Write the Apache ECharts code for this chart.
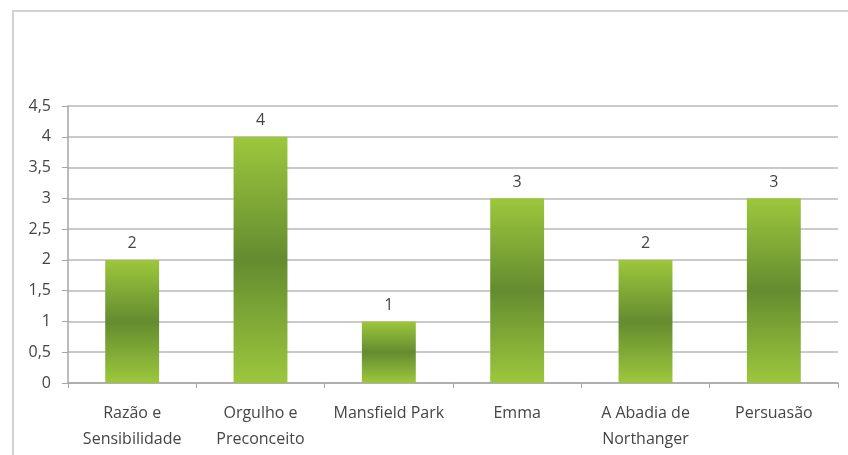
<!DOCTYPE html>
<html>
<head>
<meta charset="utf-8">
<script src="https://cdn.jsdelivr.net/npm/echarts@6/dist/echarts.min.js"></script>
<style>
  html, body { margin: 0; padding: 0; background: #fff; }
  #chart { width: 848px; height: 455px; }
</style>
</head>
<body>
<div id="chart"></div>
<script>
// livros e numero de votos
var livros = ["Razão e\nSensibilidade", "Orgulho e\nPreconceito", "Mansfield Park", "Emma", "A Abadia de\nNorthanger", "Persuasão"];
var votos = [2, 4, 1, 3, 2, 3];

var myChart = echarts.init(document.getElementById("chart"));
var option = {
  animation: false,
  textStyle: { fontFamily: "Open Sans" },
  graphic: [
    {
      type: "rect",
      shape: { x: 13, y: 11, width: 900, height: 500 },
      style: { fill: "none", stroke: "#d2d2d2", lineWidth: 2 },
      silent: true
    }
  ],
  grid: { left: 68, right: 10, top: 106, bottom: 72 },
  xAxis: {
    type: "category",
    data: livros,
    axisLine: { lineStyle: { color: "#a6a6a6", width: 1.5 } },
    axisTick: { show: true, length: 5, lineStyle: { color: "#a6a6a6" } },
    axisLabel: { color: "#454545", fontSize: 16, lineHeight: 26, margin: 17, interval: 0 }
  },
  yAxis: {
    type: "value",
    min: 0,
    max: 4.5,
    interval: 0.5,
    axisLine: { show: true, lineStyle: { color: "#a6a6a6", width: 1.5 } },
    axisTick: { show: true, length: 6, lineStyle: { color: "#a6a6a6" } },
    axisLabel: {
      color: "#454545",
      fontSize: 16,
      margin: 17,
      formatter: function (v) { return String(v).replace(".", ","); }
    },
    splitLine: { lineStyle: { color: "#b8b8b8", width: 1.5 } }
  },
  series: [
    {
      type: "bar",
      data: votos,
      barWidth: "42%",
      itemStyle: {
        color: new echarts.graphic.LinearGradient(0, 0, 0, 1, [
          { offset: 0, color: "#9cc73c" },
          { offset: 0.5, color: "#648c30" },
          { offset: 1, color: "#9cc73c" }
        ])
      },
      label: {
        show: true,
        position: "top",
        distance: 8,
        color: "#454545",
        fontSize: 16
      }
    }
  ]
};
myChart.setOption(option);
</script>
</body>
</html>
